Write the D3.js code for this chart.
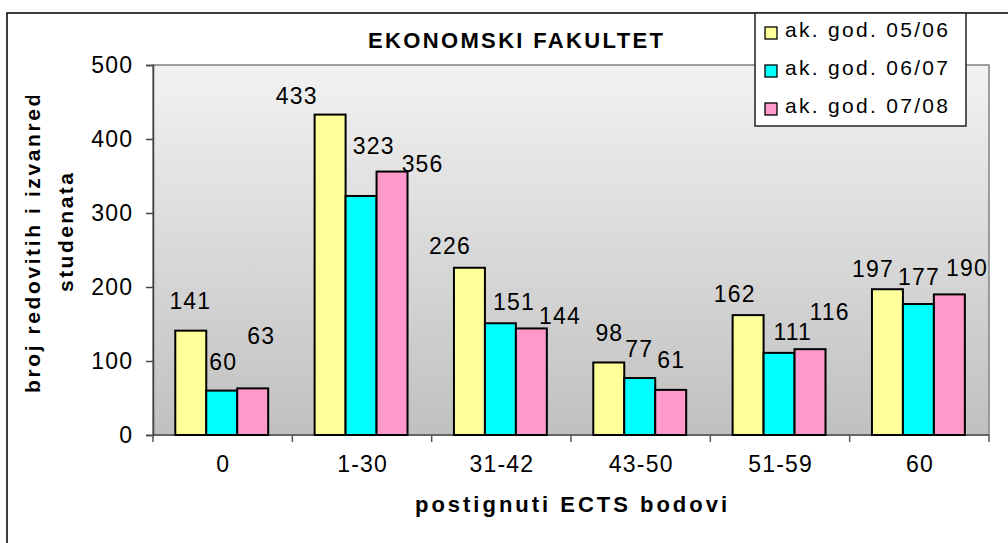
<html>
  <head>
    <style>
      body { margin: 0; background: #fff; }
      text { font-family: "Liberation Sans", Arial, sans-serif; fill: #000; }
    </style>
  </head>
  <body>
  <div id="chart"></div>

  <script src="https://d3js.org/d3.v7.js"></script>
  <script>

    // data
    var categories = ["0", "1-30", "31-42", "43-50", "51-59", "60"]
    var seriesNames = ["ak. god. 05/06", "ak. god. 06/07", "ak. god. 07/08"]
    var values0506 = [141, 433, 226, 98, 162, 197]
    var values0607 = [60, 323, 151, 77, 111, 177]
    var values0708 = [63, 356, 144, 61, 116, 190]
    var yTicks = [0, 100, 200, 300, 400, 500]

    var seriesValues = [values0506, values0607, values0708]
    var colors = ["#ffff99", "#00ffff", "#ff99cc"]

    // hand-moved data labels in the original (pixel nudges from default spot)
    var labelNudge = [
      [[-1, -1], [1, 0], [8, -23]],
      [[-34, 10], [12, -21], [30, 21]],
      [[-20, 7], [13, 8], [28, 17]],
      [[0, 0], [-1, 0], [0, -1]],
      [[-14, 8], [13, 8], [19, -8]],
      [[-15, 9], [0, 2], [17, 3]]
    ]

    var width = 1008, height = 543
    var plot = {left: 153, right: 989, top: 65, bottom: 435}
    var fs = 23, ls = 1.2

    var svg = d3.select("#chart")
      .append("svg")
        .attr("width", width)
        .attr("height", height)

    // outer chart border (runs off right and bottom)
    svg.append("path")
      .attr("d", "M7," + height + " L7,13 L" + width + ",13")
      .attr("fill", "none")
      .attr("stroke", "#000")
      .attr("stroke-width", 1.5)

    // plot area gradient
    var grad = svg.append("defs").append("linearGradient")
      .attr("id", "bg").attr("x1", 0).attr("y1", 0).attr("x2", 0).attr("y2", 1)
    grad.append("stop").attr("offset", "0%").attr("stop-color", "#f2f2f2")
    grad.append("stop").attr("offset", "100%").attr("stop-color", "#c0c0c0")

    var clip = svg.select("defs").append("clipPath").attr("id", "ytclip")
    clip.append("rect").attr("x", 0).attr("y", 96).attr("width", 120).attr("height", 448)

    svg.append("rect")
      .attr("x", plot.left).attr("y", plot.top)
      .attr("width", plot.right - plot.left).attr("height", plot.bottom - plot.top)
      .attr("fill", "url(#bg)")
      .attr("stroke", "#808080")
      .attr("stroke-width", 1.5)

    var x0 = d3.scaleBand().domain(categories).range([plot.left, plot.right])
    var barW = x0.bandwidth() / 4.5
    var x1 = d3.scaleBand().domain(d3.range(3)).range([barW * 0.72, barW * 3.72])
    var y = d3.scaleLinear().domain([0, 500]).range([plot.bottom, plot.top])

    // y axis
    var yAxis = svg.append("g")
      .attr("transform", "translate(" + plot.left + ",0)")
      .call(d3.axisLeft(y).tickValues(yTicks).tickSize(7).tickPadding(14))
    yAxis.select(".domain").attr("stroke", "#444").attr("stroke-width", 1.5)
    yAxis.selectAll(".tick line").attr("stroke", "#444").attr("stroke-width", 1.5)
    yAxis.selectAll(".tick text")
      .attr("font-size", fs).attr("letter-spacing", ls)
      .attr("font-family", "Liberation Sans, Arial, sans-serif")
      .attr("dx", ls).attr("dy", 7.5).attr("fill", "#000")

    // x axis with ticks at band boundaries
    var xg = svg.append("g").attr("transform", "translate(0," + plot.bottom + ")")
    xg.append("line").attr("x1", plot.left).attr("x2", plot.right)
      .attr("stroke", "#555").attr("stroke-width", 1.5)
    xg.selectAll(".bt")
      .data(categories.concat(["end"]))
      .enter().append("line")
        .attr("x1", (d, i) => i < categories.length ? x0(d) : plot.right)
        .attr("x2", (d, i) => i < categories.length ? x0(d) : plot.right)
        .attr("y1", 0).attr("y2", 7)
        .attr("stroke", "#555").attr("stroke-width", 1.5)
    xg.selectAll(".cl")
      .data(categories)
      .enter().append("text")
        .attr("x", d => x0(d) + x0.bandwidth() / 2 + ls / 2)
        .attr("y", 37)
        .attr("text-anchor", "middle")
        .attr("font-size", fs).attr("letter-spacing", ls)
        .text(d => d)

    // bars
    var groups = svg.selectAll(".grp")
      .data(categories)
      .enter().append("g")
        .attr("transform", d => "translate(" + x0(d) + ",0)")

    groups.selectAll("rect")
      .data((c, ci) => seriesValues.map((s, si) => ({si: si, ci: ci, v: s[ci]})))
      .enter().append("rect")
        .attr("x", d => x1(d.si))
        .attr("y", d => y(d.v))
        .attr("width", x1.bandwidth())
        .attr("height", d => y(0) - y(d.v))
        .attr("fill", d => colors[d.si])
        .attr("stroke", "#000")
        .attr("stroke-width", 2)

    groups.selectAll(".lbl")
      .data((c, ci) => seriesValues.map((s, si) => ({si: si, ci: ci, v: s[ci]})))
      .enter().append("text")
        .attr("x", d => x1(d.si) + x1.bandwidth() / 2 + labelNudge[d.ci][d.si][0] + ls / 2)
        .attr("y", d => y(d.v) - 21 + labelNudge[d.ci][d.si][1])
        .attr("text-anchor", "middle")
        .attr("font-size", fs).attr("letter-spacing", ls)
        .text(d => d.v)

    // titles
    svg.append("text")
      .attr("x", 368).attr("y", 48)
      .attr("font-size", 22).attr("font-weight", "bold")
      .attr("textLength", 295).attr("lengthAdjust", "spacing")
      .text("EKONOMSKI FAKULTET")

    svg.append("text")
      .attr("x", 415).attr("y", 512)
      .attr("font-size", 22).attr("font-weight", "bold")
      .attr("textLength", 312).attr("lengthAdjust", "spacing")
      .text("postignuti ECTS bodovi")

    var yt = svg.append("g").attr("clip-path", "url(#ytclip)")
    yt.append("text")
      .attr("transform", "translate(40,393) rotate(-90)")
      .attr("font-size", 21).attr("font-weight", "bold").attr("letter-spacing", 2.6)
      .text("broj redovitih i izvanrednih")
    yt.append("text")
      .attr("transform", "translate(73,292) rotate(-90)")
      .attr("font-size", 21).attr("font-weight", "bold")
      .attr("textLength", 119).attr("lengthAdjust", "spacing")
      .text("studenata")

    // legend
    var leg = svg.append("g")
    leg.append("rect")
      .attr("x", 755).attr("y", 13).attr("width", 211).attr("height", 113)
      .attr("fill", "#fff").attr("stroke", "#222").attr("stroke-width", 1.5)
    var items = leg.selectAll(".li")
      .data(seriesNames)
      .enter().append("g")
        .attr("transform", (d, i) => "translate(765," + (37 + i * 38) + ")")
    items.append("rect")
      .attr("x", 0).attr("y", -10).attr("width", 12).attr("height", 12)
      .attr("fill", (d, i) => colors[i])
      .attr("stroke", "#000").attr("stroke-width", 1.3)
    items.append("text")
      .attr("x", 20).attr("y", 0)
      .attr("font-size", 21).attr("letter-spacing", 2.3)
      .text(d => d)

  </script>
  </body>
</html>
